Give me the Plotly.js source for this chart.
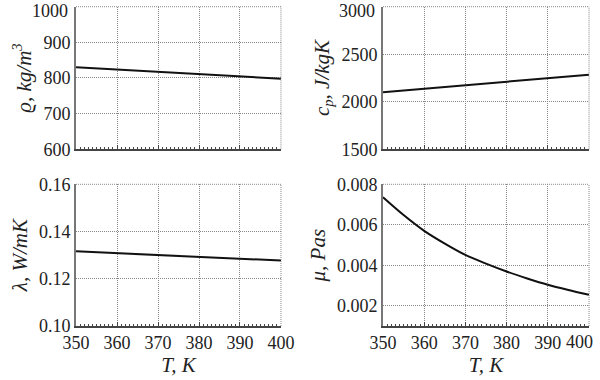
<!DOCTYPE html>
<html>
<head>
<meta charset="utf-8">
<script src="https://cdn.plot.ly/plotly-3.0.1.min.js"></script>
<style>html,body{margin:0;padding:0;background:#fff;}#chart{width:600px;height:380px;}</style>
</head>
<body>
<div id="chart"></div>
<script>
const T_lin = [350, 360, 370, 380, 390, 400];
const rho = [830, 824, 817, 811, 804, 798];
const cp = [2100, 2137, 2174, 2211, 2248, 2285];
const lambda = [0.1316, 0.1308, 0.1300, 0.1293, 0.1285, 0.1277];
const T_mu = [350, 355, 360, 365, 370, 375, 380, 385, 390, 395, 400];
const mu = [0.00736, 0.00648, 0.0057, 0.00507, 0.00451, 0.00408, 0.00369, 0.00335, 0.00304, 0.00278, 0.00254];
const T_ticks = [350, 360, 370, 380, 390, 400];
const T_tickText = ['350', '360', '370', '380', '390', '400'];
const rho_ticks = [600, 700, 800, 900, 1000];
const cp_ticks = [1500, 2000, 2500, 3000];

const yTitles = ['<i>ϱ, kg/m</i><sup><i>3</i></sup>', '<i>c</i><sub><i>p</i></sub><i>, J/kgK</i>', '<i>λ, W/mK</i>', '<i>μ, Pas</i>'];
const xTitle = '<i>T, K</i>';

const FAM = 'Liberation Serif, DejaVu Serif, serif';
const font = {family: FAM, size: 18, color: '#222'};
const titleFont = {family: FAM, size: 21, color: '#222'};
const line = {color: '#111', width: 2};
const GRID = '#888';
const DOT = '1px,1px';

const traces = [
  {x: T_lin, y: rho, xaxis: 'x', yaxis: 'y', mode: 'lines', line: line},
  {x: T_lin, y: cp, xaxis: 'x2', yaxis: 'y2', mode: 'lines', line: line},
  {x: T_lin, y: lambda, xaxis: 'x3', yaxis: 'y3', mode: 'lines', line: line},
  {x: T_mu, y: mu, xaxis: 'x4', yaxis: 'y4', mode: 'lines', line: Object.assign({shape: 'spline', smoothing: 0.8}, line)}
];

function xax(dom, anchor, showLabels, ticktext) {
  const a = {
    domain: dom, anchor: anchor, range: [350, 400],
    tickmode: 'array', tickvals: T_ticks, ticktext: ticktext || T_tickText,
    showgrid: true, gridcolor: GRID, griddash: DOT, gridwidth: 1,
    showline: true, linecolor: '#444', linewidth: 1.5,
    ticks: 'inside', ticklen: 4, tickcolor: '#444',
    minor: {dtick: 1, tick0: 350, ticks: 'inside', ticklen: 2, tickcolor: '#444', showgrid: false},
    showticklabels: showLabels, zeroline: false, ticklabeloverflow: 'allow', tickfont: font
  };
  if (showLabels) a.title = {text: xTitle, font: titleFont, standoff: 4};
  return a;
}
function yax(dom, anchor, range, dtick, title, fmt) {
  return {
    domain: dom, anchor: anchor, range: range, dtick: dtick,
    showgrid: true, gridcolor: GRID, griddash: DOT, gridwidth: 1,
    showline: true, linecolor: '#777', linewidth: 2,
    ticks: '', zeroline: false, tickformat: fmt, ticklabeloverflow: 'allow', tickfont: font,
    title: {text: title, font: titleFont, standoff: 6}
  };
}
// top-of-canvas y labels are drawn as annotations nudged down, so they stay inside the picture
function topYAxis(base, ticks) {
  const last = ticks.length - 1;
  return Object.assign(base, {
    tickmode: 'array', tickvals: ticks,
    ticktext: ticks.map(function (v, i) { return i === last ? '' : String(v); })
  });
}

const xdL = [0.1267, 0.4683], xdR = [0.6383, 0.9817];
const ydT = [0.6071, 0.9824], ydB = [0.1421, 0.515];

const shapes = [];
['', '2', '3', '4'].forEach(function (s) {
  const xr = 'x' + s + ' domain', yr = 'y' + s + ' domain';
  shapes.push({type: 'line', xref: xr, yref: yr, x0: 0, x1: 1, y0: 1, y1: 1, line: {color: GRID, width: 1, dash: DOT}});
  shapes.push({type: 'line', xref: xr, yref: yr, x0: 1, x1: 1, y0: 0, y1: 1, line: {color: GRID, width: 1, dash: DOT}});
});

const lastIdx = T_ticks.length - 1;
const tickText4 = T_tickText.map(function (t, i) { return i === lastIdx ? '' : t; });
const annotations = [
  {xref: 'x4', yref: 'y4 domain', x: T_ticks[lastIdx], y: 0,
   text: T_tickText[lastIdx], showarrow: false, font: font,
   xanchor: 'right', yanchor: 'top', xshift: 5, yshift: -5, borderpad: 0},
  {xref: 'x domain', yref: 'y', x: 0, y: rho_ticks[rho_ticks.length - 1],
   text: String(rho_ticks[rho_ticks.length - 1]), showarrow: false, font: font,
   xanchor: 'right', yanchor: 'top', xshift: -7, yshift: 7, borderpad: 0},
  {xref: 'x2 domain', yref: 'y2', x: 0, y: cp_ticks[cp_ticks.length - 1],
   text: String(cp_ticks[cp_ticks.length - 1]), showarrow: false, font: font,
   xanchor: 'right', yanchor: 'top', xshift: -7, yshift: 7, borderpad: 0}
];

const layout = {
  width: 600, height: 380,
  margin: {l: 0, r: 0, t: 0, b: 0},
  paper_bgcolor: '#fff', plot_bgcolor: '#fff',
  showlegend: false, font: font, shapes: shapes, annotations: annotations,
  xaxis: xax(xdL, 'y', false),
  yaxis: topYAxis(yax(ydT, 'x', [600, 1000], 100, yTitles[0], 'd'), rho_ticks),
  xaxis2: xax(xdR, 'y2', false),
  yaxis2: topYAxis(yax(ydT, 'x2', [1500, 3000], 500, yTitles[1], 'd'), cp_ticks),
  xaxis3: xax(xdL, 'y3', true),
  yaxis3: yax(ydB, 'x3', [0.10, 0.16], 0.02, yTitles[2], '.2f'),
  xaxis4: xax(xdR, 'y4', true, tickText4),
  yaxis4: Object.assign(yax(ydB, 'x4', [0.001, 0.008], 0.002, yTitles[3], '.3f'), {tick0: 0.002})
};

Plotly.newPlot('chart', traces, layout, {staticPlot: true, displayModeBar: false});
</script>
</body>
</html>
